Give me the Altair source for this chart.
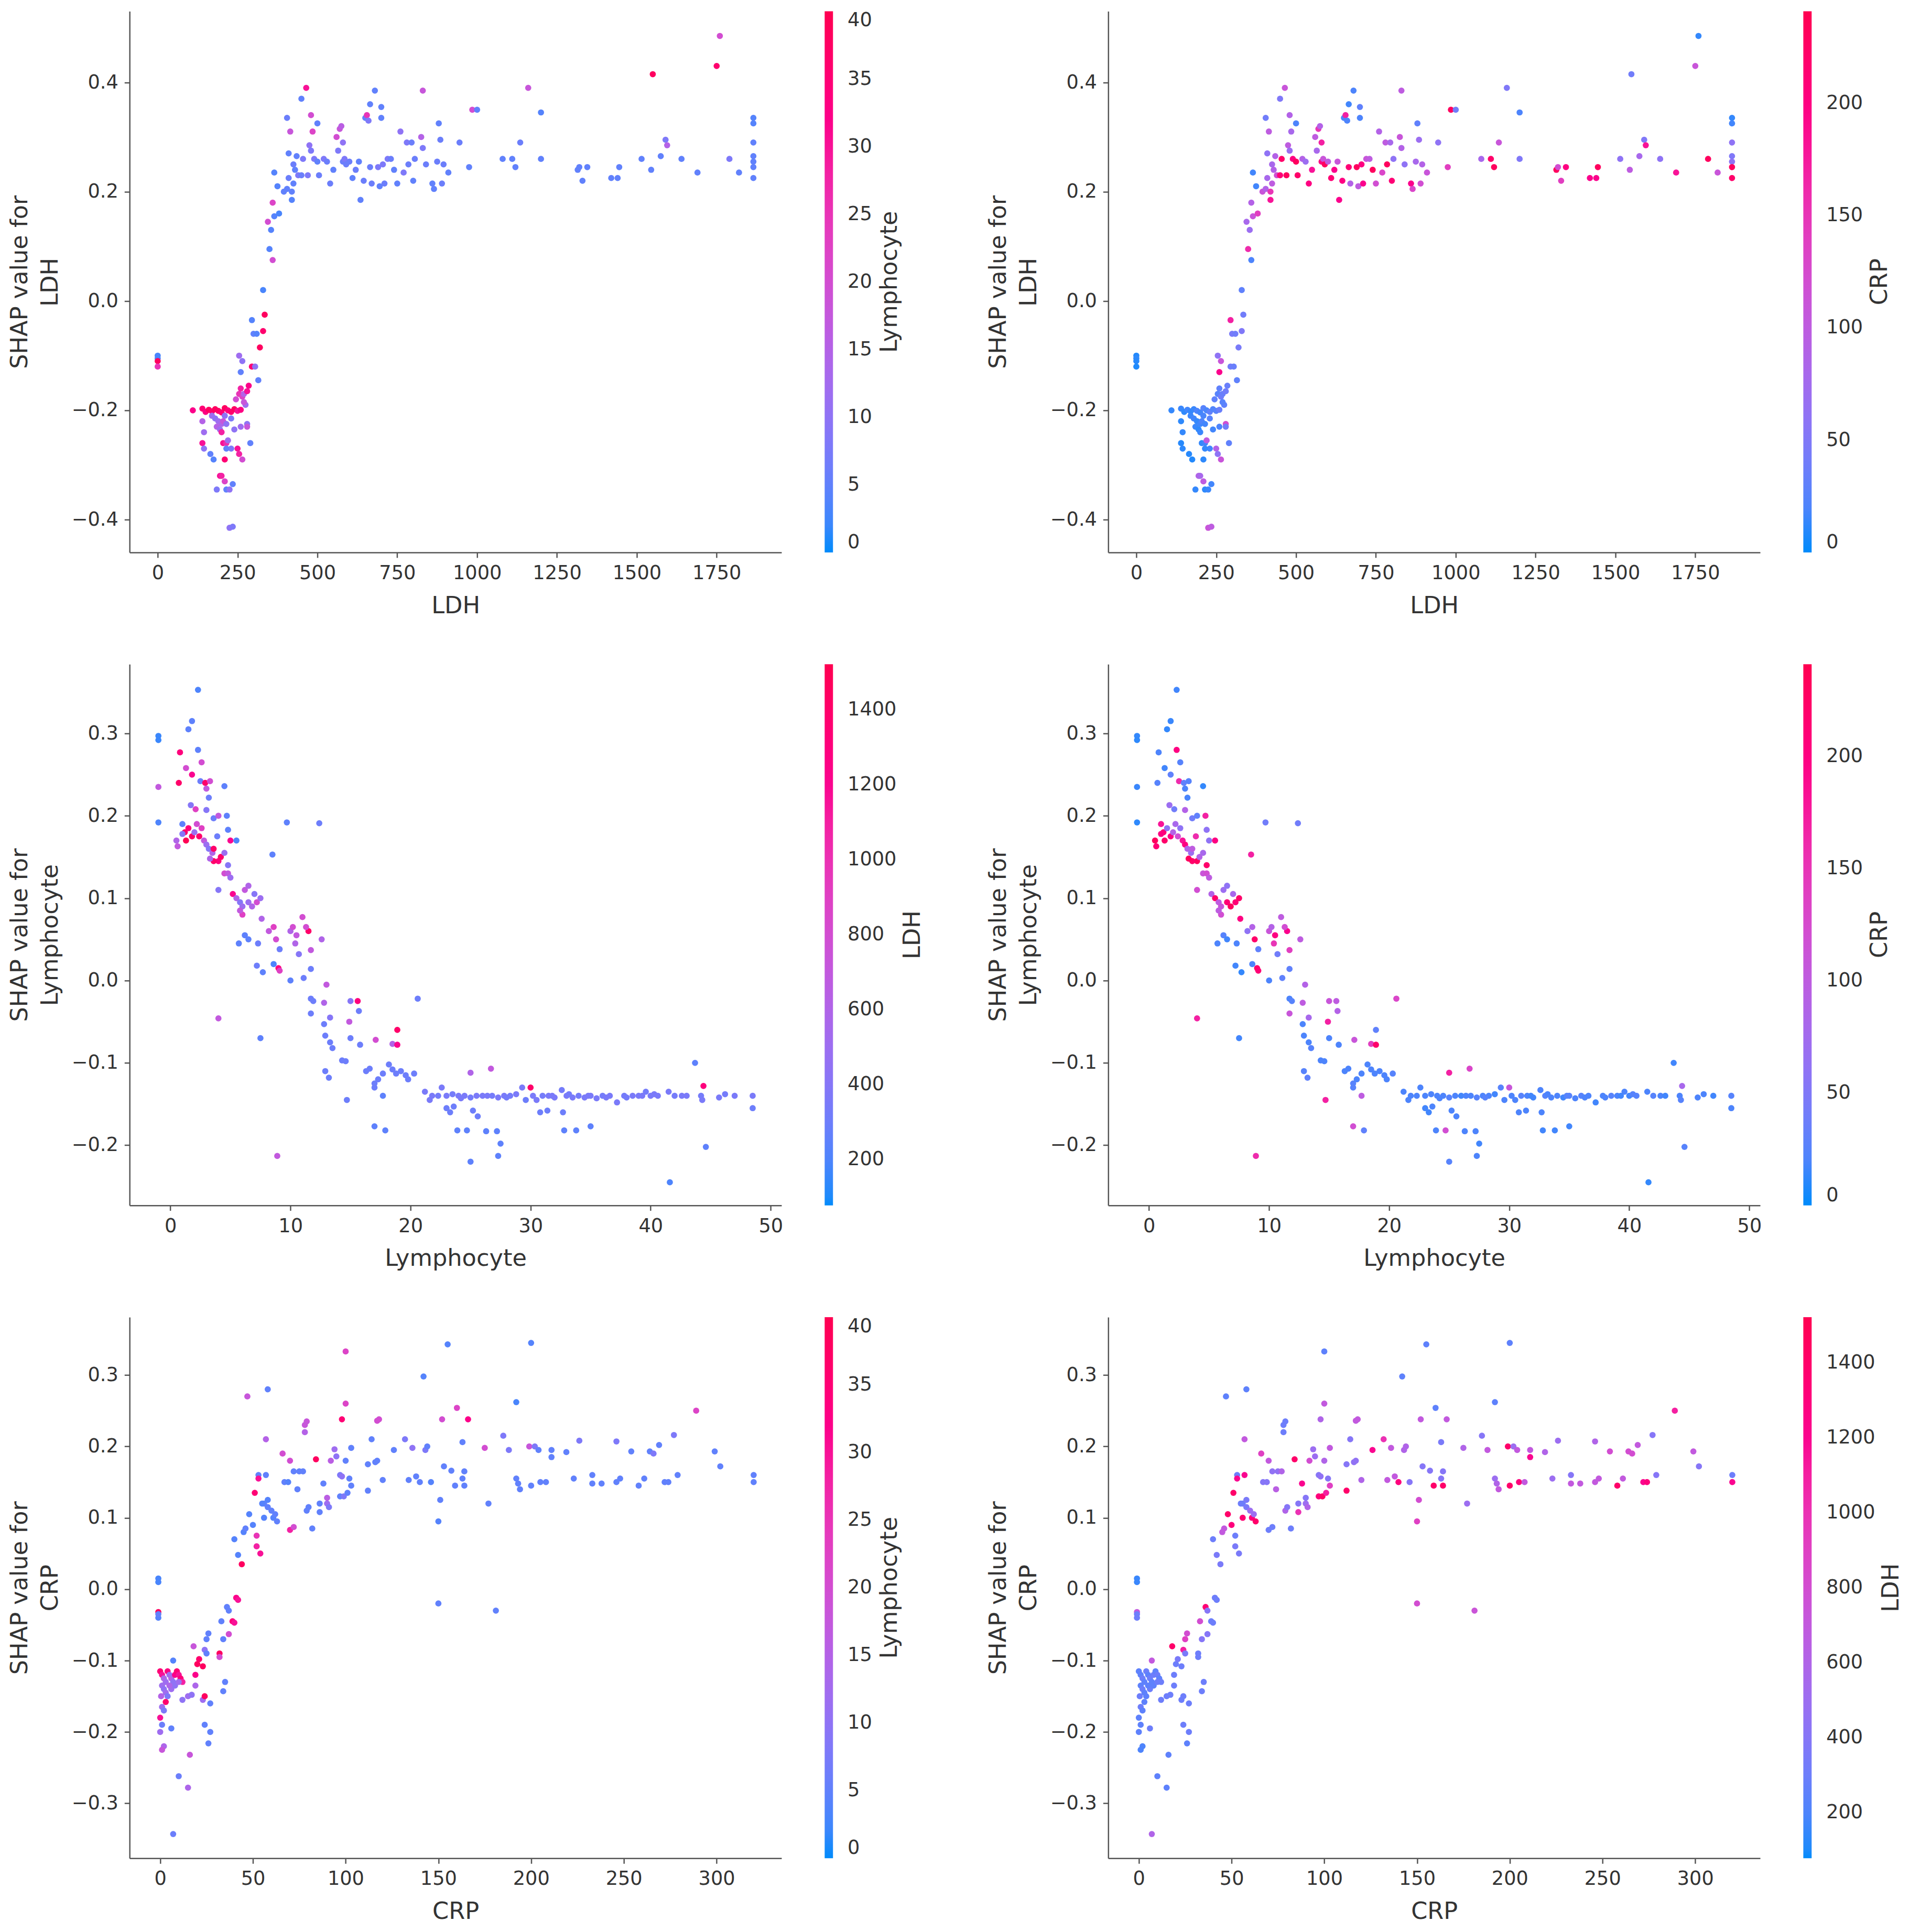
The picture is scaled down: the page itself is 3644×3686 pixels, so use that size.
import pandas as pd
import altair as alt

# ---- LDH dependence (row 1: colour by Lymphocyte, then by CRP) ----
ldh_x = [
    0, 0, 0, 0, 110, 140, 150, 160, 170, 180,
    190, 200, 210, 220, 230, 240, 250, 260, 140, 145,
    140, 145, 170, 180, 190, 200, 210, 185, 195, 205,
    215, 230, 165, 175, 200, 205, 215, 220, 230, 250,
    255, 265, 210, 215, 195, 200, 210, 215, 185, 225,
    235, 225, 235, 245, 255, 260, 265, 270, 275, 280,
    285, 270, 280, 290, 260, 240, 280, 255, 265, 260,
    295, 305, 315, 300, 310, 295, 320, 330, 335, 330,
    350, 360, 345, 355, 365, 360, 380, 375, 365, 395,
    405, 410, 420, 420, 425, 430, 440, 450, 405, 410,
    415, 425, 435, 450, 455, 465, 470, 475, 480, 480,
    485, 490, 500, 500, 505, 520, 530, 540, 550, 560,
    565, 570, 575, 580, 580, 585, 590, 600, 610, 620,
    630, 635, 645, 650, 655, 660, 665, 665, 670, 680,
    690, 695, 700, 700, 705, 710, 720, 730, 740, 750,
    760, 770, 780, 785, 795, 800, 805, 825, 830, 830,
    840, 860, 865, 875, 880, 885, 890, 895, 910, 945,
    975, 985, 1000, 1080, 1110, 1120, 1135, 1160, 1200, 1200,
    1315, 1320, 1330, 1345, 1420, 1440, 1445, 1515, 1545, 1550,
    1575, 1590, 1595, 1640, 1690, 1750, 1760, 1790, 1820, 1865,
    1865, 1865, 1865, 1865, 1865, 1865,
]
ldh_shap = [
    -0.10, -0.105, -0.11, -0.12, -0.200, -0.197, -0.203, -0.199, -0.202, -0.198,
    -0.201, -0.204, -0.196, -0.200, -0.203, -0.198, -0.201, -0.199, -0.22, -0.24,
    -0.26, -0.27, -0.21, -0.215, -0.22, -0.225, -0.21, -0.23, -0.235, -0.22,
    -0.225, -0.215, -0.28, -0.29, -0.24, -0.26, -0.26, -0.255, -0.27, -0.27,
    -0.28, -0.29, -0.29, -0.27, -0.32, -0.32, -0.33, -0.345, -0.345, -0.345,
    -0.335, -0.415, -0.413, -0.18, -0.17, -0.16, -0.175, -0.17, -0.19, -0.165,
    -0.155, -0.185, -0.225, -0.26, -0.23, -0.235, -0.23, -0.10, -0.11, -0.13,
    -0.12, -0.12, -0.145, -0.06, -0.06, -0.035, -0.085, -0.055, -0.025, 0.02,
    0.095, 0.075, 0.145, 0.13, 0.155, 0.18, 0.16, 0.21, 0.235, 0.20,
    0.205, 0.225, 0.185, 0.20, 0.215, 0.24, 0.23, 0.23, 0.335, 0.27,
    0.31, 0.25, 0.265, 0.37, 0.26, 0.39, 0.23, 0.285, 0.34, 0.275,
    0.31, 0.26, 0.325, 0.255, 0.23, 0.26, 0.255, 0.215, 0.24, 0.30,
    0.275, 0.315, 0.32, 0.255, 0.29, 0.26, 0.25, 0.255, 0.225, 0.24,
    0.255, 0.185, 0.22, 0.335, 0.34, 0.33, 0.245, 0.36, 0.215, 0.385,
    0.245, 0.21, 0.355, 0.335, 0.25, 0.215, 0.26, 0.26, 0.24, 0.215,
    0.31, 0.235, 0.29, 0.25, 0.29, 0.22, 0.26, 0.30, 0.385, 0.28,
    0.25, 0.215, 0.205, 0.255, 0.325, 0.295, 0.215, 0.25, 0.235, 0.29,
    0.245, 0.35, 0.35, 0.26, 0.26, 0.245, 0.29, 0.39, 0.345, 0.26,
    0.24, 0.245, 0.22, 0.245, 0.225, 0.225, 0.245, 0.26, 0.24, 0.415,
    0.265, 0.295, 0.285, 0.26, 0.235, 0.43, 0.485, 0.26, 0.235, 0.335,
    0.325, 0.29, 0.265, 0.255, 0.245, 0.225,
]
ldh_lymph = [
    3, 3, 38, 25, 32, 35, 33, 38, 36, 38,
    37, 35, 38, 34, 36, 38, 30, 33, 15, 12,
    30, 10, 12, 10, 12, 14, 10, 15, 12, 18,
    10, 8, 5, 4, 28, 30, 26, 12, 8, 30,
    28, 20, 35, 5, 30, 28, 22, 5, 8, 10,
    5, 10, 8, 20, 25, 28, 22, 15, 12, 30,
    32, 18, 10, 5, 12, 10, 18, 12, 10, 5,
    35, 10, 5, 5, 4, 4, 38, 36, 38, 3,
    4, 20, 20, 4, 4, 22, 3, 4, 4, 5,
    5, 6, 4, 5, 5, 5, 8, 6, 6, 5,
    18, 6, 5, 5, 8, 30, 8, 10, 20, 8,
    22, 8, 5, 5, 6, 8, 6, 6, 5, 20,
    8, 18, 16, 6, 10, 8, 6, 6, 5, 6,
    5, 5, 6, 5, 25, 8, 6, 5, 6, 5,
    8, 5, 5, 5, 8, 6, 8, 6, 5, 5,
    10, 8, 8, 6, 6, 5, 6, 15, 18, 8,
    6, 5, 5, 6, 5, 6, 6, 6, 5, 6,
    5, 20, 5, 5, 5, 5, 6, 18, 4, 5,
    5, 5, 5, 5, 5, 5, 5, 5, 5, 38,
    5, 8, 15, 5, 5, 36, 20, 8, 5, 4,
    4, 5, 5, 5, 5, 5,
]
ldh_crp = [
    5, 8, 6, 4, 10, 12, 8, 15, 10, 12,
    20, 15, 25, 18, 30, 22, 25, 35, 8, 10,
    6, 8, 12, 15, 10, 14, 18, 12, 8, 20,
    15, 25, 6, 5, 12, 10, 15, 100, 15, 90,
    60, 110, 8, 10, 90, 80, 100, 8, 10, 12,
    15, 110, 100, 30, 25, 30, 40, 35, 30, 40,
    35, 25, 120, 30, 20, 15, 40, 60, 110, 190,
    40, 35, 30, 45, 40, 170, 45, 50, 40, 30,
    160, 20, 80, 70, 110, 90, 140, 15, 15, 110,
    90, 80, 180, 150, 100, 90, 120, 210, 40, 60,
    100, 80, 90, 50, 220, 110, 230, 100, 90, 70,
    80, 200, 20, 230, 220, 90, 70, 200, 180, 100,
    80, 150, 90, 200, 170, 110, 230, 100, 210, 190,
    110, 190, 200, 20, 170, 20, 210, 15, 90, 20,
    230, 100, 30, 20, 200, 190, 110, 100, 230, 120,
    90, 130, 100, 230, 80, 210, 60, 110, 100, 90,
    60, 190, 130, 80, 30, 70, 120, 90, 110, 60,
    140, 230, 40, 80, 220, 230, 110, 50, 20, 50,
    230, 120, 140, 200, 190, 190, 230, 60, 100, 40,
    80, 50, 180, 60, 180, 110, 10, 230, 110, 10,
    15, 60, 50, 60, 230, 220,
]

# ---- Lymphocyte dependence (row 2: colour by LDH, then by CRP) ----
lym_x = [
    -1.0, -1.0, -1.0, -1.0, 0.8, 0.7, 1.3, 1.5, 1.8, 1.8,
    2.3, 2.3, 2.6, 2.5, 2.9, 3.0, 3.3, 3.2, 4.5, 1.7,
    2.1, 3.0, 3.6, 4.0, 4.7, 1.0, 1.2, 1.5, 1.8, 2.0,
    2.2, 2.4, 2.6, 1.3, 0.5, 0.6, 1.0, 2.8, 3.0, 3.2,
    3.5, 3.6, 4.0, 3.6, 3.3, 4.2, 4.5, 4.8, 4.5, 4.8,
    5.0, 5.0, 3.9, 4.8, 5.5, 4.0, 5.2, 5.5, 5.8, 6.0,
    6.2, 6.5, 6.0, 6.5, 7.0, 7.2, 7.5, 6.8, 5.8, 5.7,
    6.2, 6.5, 7.3, 7.6, 8.2, 8.6, 8.8, 9.1, 7.2, 7.7,
    8.5, 8.6, 9.0, 9.1, 10.0, 10.2, 10.5, 10.4, 11.0, 11.5,
    11.3, 11.7, 12.6, 10.7, 11.1, 10.0, 11.7, 9.7, 12.4, 4.0,
    7.5, 11.7, 11.9, 11.7, 13.0, 12.8, 13.3, 12.8, 12.9, 13.3,
    13.5, 15.0, 15.6, 15.7, 14.9, 15.0, 15.8, 17.1, 18.5, 18.9,
    18.9, 20.6, 14.3, 14.6, 12.9, 13.2, 14.7, 16.3, 16.6, 17.0,
    17.3, 17.0, 17.7, 17.7, 18.2, 18.5, 18.8, 19.2, 19.6, 19.8,
    20.3, 17.0, 17.9, 21.2, 21.6, 22.3, 22.6, 23.0, 23.5, 24.0,
    24.5, 25.0, 25.5, 26.0, 26.8, 27.3, 27.8, 28.3, 28.8, 29.3,
    30.5, 31.0, 31.5, 32.0, 32.6, 33.0, 33.5, 34.0, 34.5, 35.0,
    35.5, 36.0, 36.6, 37.2, 37.8, 38.5, 39.0, 39.6, 40.0, 40.6,
    41.5, 42.0, 42.6, 43.0, 44.2, 44.3, 45.7, 46.2, 47.0, 48.5,
    48.5, 23.0, 23.3, 23.6, 25.2, 25.6, 29.6, 30.8, 31.4, 32.7,
    23.9, 24.7, 25.0, 26.3, 27.2, 27.3, 27.5, 32.8, 33.8, 35.0,
    41.6, 44.6, 43.7, 25.0, 26.7, 30.0, 44.4, 8.9, 21.8, 24.2,
    26.4, 28.0, 30.2, 31.8, 33.2, 34.8, 36.3, 38.0, 39.3, 40.3,
]
lym_shap = [
    0.297, 0.292, 0.235, 0.192, 0.277, 0.240, 0.258, 0.305, 0.315, 0.250,
    0.353, 0.280, 0.265, 0.242, 0.240, 0.233, 0.242, 0.222, 0.236, 0.213,
    0.208, 0.207, 0.197, 0.200, 0.200, 0.190, 0.180, 0.185, 0.175, 0.180,
    0.190, 0.175, 0.185, 0.170, 0.170, 0.163, 0.178, 0.170, 0.165, 0.160,
    0.155, 0.160, 0.145, 0.145, 0.148, 0.150, 0.155, 0.140, 0.130, 0.130,
    0.125, 0.170, 0.175, 0.183, 0.170, 0.110, 0.105, 0.100, 0.095, 0.090,
    0.110, 0.115, 0.080, 0.095, 0.105, 0.095, 0.100, 0.090, 0.085, 0.045,
    0.055, 0.050, 0.045, 0.075, 0.060, 0.065, 0.050, 0.038, 0.018, 0.010,
    0.153, 0.020, 0.015, 0.012, 0.060, 0.065, 0.055, 0.045, 0.077, 0.060,
    0.065, 0.037, 0.050, 0.032, 0.003, 0.000, 0.014, 0.192, 0.191, -0.046,
    -0.070, -0.022, -0.025, -0.040, -0.005, -0.027, -0.045, -0.053, -0.067, -0.075,
    -0.082, -0.025, -0.025, -0.037, -0.050, -0.070, -0.078, -0.072, -0.077, -0.060,
    -0.078, -0.022, -0.097, -0.098, -0.110, -0.118, -0.145, -0.110, -0.107, -0.125,
    -0.120, -0.130, -0.113, -0.140, -0.102, -0.108, -0.113, -0.110, -0.115, -0.120,
    -0.113, -0.177, -0.182, -0.135, -0.145, -0.140, -0.130, -0.140, -0.138, -0.140,
    -0.140, -0.142, -0.140, -0.140, -0.140, -0.142, -0.140, -0.140, -0.138, -0.130,
    -0.145, -0.140, -0.140, -0.142, -0.133, -0.140, -0.142, -0.140, -0.142, -0.140,
    -0.143, -0.140, -0.140, -0.148, -0.140, -0.140, -0.140, -0.135, -0.140, -0.140,
    -0.135, -0.140, -0.140, -0.140, -0.140, -0.145, -0.142, -0.138, -0.140, -0.140,
    -0.155, -0.155, -0.160, -0.153, -0.158, -0.165, -0.145, -0.160, -0.158, -0.160,
    -0.182, -0.182, -0.220, -0.183, -0.183, -0.213, -0.198, -0.182, -0.182, -0.177,
    -0.245, -0.202, -0.100, -0.112, -0.107, -0.130, -0.128, -0.213, -0.140, -0.143,
    -0.140, -0.142, -0.140, -0.140, -0.138, -0.140, -0.142, -0.142, -0.140, -0.138,
]
lym_ldh = [
    150, 150, 700, 200, 1300, 1400, 800, 250, 250, 1200,
    200, 250, 800, 300, 1400, 700, 800, 300, 250, 400,
    900, 400, 300, 700, 250, 250, 1400, 1300, 1400, 500,
    800, 1400, 900, 1500, 600, 700, 400, 700, 500, 400,
    600, 1400, 1300, 1400, 600, 1400, 500, 400, 800, 700,
    500, 1200, 300, 250, 200, 400, 1200, 600, 400, 500,
    700, 600, 900, 500, 400, 800, 500, 600, 700, 250,
    250, 250, 300, 600, 700, 900, 800, 300, 300, 250,
    250, 200, 1300, 900, 600, 800, 700, 600, 800, 1400,
    800, 700, 600, 400, 300, 250, 300, 250, 300, 700,
    250, 300, 300, 300, 700, 600, 400, 300, 300, 300,
    300, 400, 1300, 300, 700, 300, 300, 800, 600, 1400,
    1200, 300, 300, 300, 300, 300, 300, 300, 300, 300,
    300, 300, 300, 250, 300, 300, 300, 300, 300, 300,
    300, 250, 250, 350, 350, 330, 350, 350, 330, 350,
    350, 330, 350, 350, 330, 350, 350, 330, 350, 350,
    350, 330, 350, 350, 330, 350, 350, 330, 350, 350,
    350, 330, 350, 350, 330, 350, 350, 330, 350, 350,
    350, 330, 350, 350, 330, 350, 350, 330, 350, 350,
    300, 300, 300, 300, 300, 300, 300, 300, 300, 300,
    250, 250, 250, 250, 250, 250, 250, 250, 250, 250,
    200, 250, 250, 600, 700, 1400, 1300, 700, 350, 350,
    350, 330, 350, 350, 330, 350, 350, 330, 350, 350,
]
lym_crp = [
    10, 8, 12, 8, 20, 25, 15, 10, 12, 30,
    15, 200, 25, 160, 30, 20, 25, 18, 10, 70,
    40, 90, 40, 30, 170, 180, 210, 60, 200, 90,
    80, 120, 60, 220, 230, 210, 200, 180, 200, 90,
    70, 100, 230, 220, 230, 90, 80, 220, 110, 120,
    100, 60, 160, 60, 200, 120, 90, 220, 100, 110,
    70, 60, 120, 210, 80, 210, 220, 230, 100, 20,
    25, 15, 20, 200, 60, 90, 220, 30, 15, 10,
    170, 20, 220, 210, 110, 90, 200, 150, 100, 190,
    120, 140, 100, 40, 30, 20, 30, 40, 40, 170,
    15, 20, 25, 110, 90, 100, 80, 20, 20, 20,
    25, 110, 100, 90, 170, 20, 20, 110, 140, 30,
    220, 130, 20, 20, 25, 30, 170, 20, 20, 25,
    20, 25, 20, 100, 20, 20, 20, 20, 20, 20,
    25, 120, 30, 20, 20, 20, 20, 20, 20, 20,
    20, 25, 20, 15, 20, 25, 20, 20, 15, 25,
    20, 25, 20, 15, 20, 25, 20, 20, 15, 25,
    20, 25, 20, 15, 20, 25, 20, 20, 15, 25,
    20, 25, 20, 15, 20, 25, 20, 20, 15, 25,
    20, 15, 15, 20, 20, 20, 20, 20, 20, 20,
    20, 120, 25, 20, 20, 20, 15, 15, 15, 15,
    10, 25, 15, 170, 130, 110, 80, 160, 20, 20,
    20, 25, 20, 15, 20, 25, 20, 20, 15, 25,
]

# ---- CRP dependence (row 3: colour by Lymphocyte, then by LDH) ----
crp_x = [
    -1, -1, -1, -1, -1, 0, 1, 2, 3, 4,
    5, 6, 7, 8, 9, 10, 11, 12, 1, 2,
    3, 0.5, 4, 6, 8, 10, 5, 7, 3, 1,
    2, 0, 1, 0, 2, 1, 6, 12, 15, 17,
    18, 19, 20, 21, 23, 24, 25, 26, 19, 23,
    25, 24, 27, 24, 27, 26, 32, 32, 33, 34,
    34, 35, 36, 37, 37, 39, 40, 41, 42, 10,
    16, 15, 7, 40, 42, 44, 45, 46, 48, 50,
    51, 52, 52, 54, 53, 53, 56, 56, 58, 58,
    60, 61, 62, 63, 57, 55, 47, 58, 57, 66,
    67, 69, 70, 70, 72, 72, 74, 75, 77, 78,
    79, 78, 79, 80, 82, 84, 86, 86, 88, 90,
    90, 91, 92, 94, 95, 97, 97, 98, 98, 99,
    100, 100, 100, 101, 102, 103, 103, 112, 112, 114,
    116, 117, 117, 118, 120, 126, 132, 134, 136, 138,
    140, 142, 143, 144, 146, 150, 151, 152, 153, 155,
    157, 159, 160, 163, 163, 164, 164, 166, 175, 177,
    185, 188, 192, 192, 193, 194, 199, 200, 200, 202,
    204, 205, 208, 211, 211, 219, 223, 226, 233, 233,
    238, 246, 246, 248, 254, 258, 261, 264, 266, 269,
    272, 274, 277, 279, 289, 299, 302, 320, 320, 150, 181,
]
crp_shap = [
    0.015, 0.010, -0.032, -0.040, -0.035, -0.115, -0.120, -0.125, -0.130, -0.115,
    -0.120, -0.125, -0.130, -0.120, -0.115, -0.120, -0.125, -0.130, -0.135, -0.140,
    -0.145, -0.150, -0.150, -0.140, -0.135, -0.130, -0.135, -0.100, -0.158, -0.165,
    -0.170, -0.180, -0.190, -0.200, -0.220, -0.225, -0.195, -0.155, -0.150, -0.148,
    -0.080, -0.120, -0.105, -0.098, -0.108, -0.085, -0.070, -0.062, -0.135, -0.155,
    -0.090, -0.150, -0.160, -0.190, -0.200, -0.216, -0.090, -0.095, -0.045, -0.070,
    -0.143, -0.130, -0.025, -0.030, -0.063, -0.045, -0.047, -0.012, -0.015, -0.262,
    -0.232, -0.278, -0.343, 0.070, 0.048, 0.035, 0.080, 0.085, 0.105, 0.090,
    0.135, 0.075, 0.060, 0.050, 0.160, 0.155, 0.100, 0.120, 0.115, 0.125,
    0.110, 0.100, 0.105, 0.095, 0.160, 0.120, 0.270, 0.280, 0.210, 0.190,
    0.150, 0.150, 0.180, 0.083, 0.087, 0.165, 0.140, 0.165, 0.165, 0.230,
    0.235, 0.220, 0.110, 0.115, 0.085, 0.182, 0.120, 0.108, 0.148, 0.120,
    0.128, 0.115, 0.180, 0.196, 0.186, 0.160, 0.130, 0.238, 0.158, 0.130,
    0.333, 0.260, 0.180, 0.135, 0.155, 0.198, 0.145, 0.175, 0.138, 0.210,
    0.178, 0.180, 0.236, 0.238, 0.153, 0.195, 0.210, 0.153, 0.198, 0.158,
    0.150, 0.298, 0.195, 0.200, 0.150, 0.095, 0.125, 0.238, 0.172, 0.343,
    0.166, 0.145, 0.254, 0.206, 0.155, 0.165, 0.145, 0.238, 0.198, 0.120,
    0.215, 0.195, 0.262, 0.155, 0.148, 0.140, 0.200, 0.345, 0.145, 0.200,
    0.195, 0.150, 0.150, 0.195, 0.185, 0.192, 0.155, 0.208, 0.160, 0.148,
    0.148, 0.207, 0.150, 0.155, 0.193, 0.145, 0.155, 0.193, 0.190, 0.202,
    0.150, 0.150, 0.216, 0.160, 0.250, 0.193, 0.172, 0.160, 0.150, -0.020, -0.030,
]
crp_lymph = [
    3, 3, 38, 4, 5, 35, 30, 14, 12, 33,
    12, 15, 10, 32, 35, 30, 34, 28, 12, 10,
    12, 15, 8, 12, 10, 12, 14, 4, 36, 12,
    8, 30, 6, 12, 14, 18, 5, 10, 12, 10,
    18, 32, 38, 36, 38, 10, 5, 5, 14, 12,
    5, 38, 5, 5, 5, 5, 38, 20, 5, 5,
    5, 5, 5, 5, 20, 34, 30, 32, 30, 6,
    18, 14, 6, 4, 4, 38, 4, 5, 4, 4,
    35, 25, 28, 30, 5, 30, 4, 5, 5, 4,
    5, 4, 5, 5, 5, 4, 18, 5, 15, 20,
    5, 4, 20, 28, 20, 5, 5, 5, 5, 18,
    18, 15, 5, 5, 5, 38, 5, 5, 5, 12,
    16, 8, 16, 12, 10, 8, 5, 35, 10, 8,
    22, 22, 5, 5, 5, 5, 5, 5, 5, 5,
    5, 5, 20, 20, 5, 5, 8, 5, 10, 5,
    5, 4, 8, 5, 4, 4, 5, 20, 5, 4,
    5, 5, 22, 5, 5, 5, 5, 32, 20, 5,
    8, 8, 3, 5, 5, 5, 18, 4, 5, 8,
    5, 5, 5, 5, 5, 5, 5, 8, 5, 5,
    5, 8, 5, 5, 5, 5, 5, 5, 8, 5,
    5, 5, 8, 5, 22, 5, 5, 5, 5, 5, 5,
]
crp_ldh = [
    150, 150, 700, 300, 300, 250, 250, 300, 250, 300,
    250, 300, 250, 300, 250, 300, 250, 300, 250, 300,
    250, 300, 250, 300, 250, 300, 250, 700, 250, 300,
    250, 250, 250, 250, 200, 200, 300, 300, 300, 300,
    1400, 300, 300, 350, 300, 1100, 900, 800, 300, 300,
    350, 300, 300, 300, 300, 250, 300, 300, 800, 400,
    300, 300, 1350, 400, 400, 300, 300, 300, 300, 250,
    250, 250, 600, 300, 350, 350, 700, 700, 1400, 1300,
    1400, 300, 350, 350, 300, 1200, 1350, 300, 350, 350,
    500, 1300, 500, 1400, 1200, 300, 250, 250, 700, 900,
    400, 400, 700, 300, 300, 450, 650, 450, 600, 300,
    300, 300, 600, 400, 300, 1400, 400, 1000, 1200, 500,
    400, 600, 800, 500, 500, 400, 1300, 600, 450, 1400,
    250, 700, 600, 1100, 400, 700, 900, 400, 1400, 400,
    450, 450, 700, 700, 600, 1200, 1000, 700, 700, 700,
    1300, 250, 600, 600, 400, 900, 800, 700, 400, 250,
    400, 1400, 250, 350, 400, 400, 1400, 700, 600, 500,
    400, 700, 250, 500, 600, 700, 1400, 250, 1400, 500,
    700, 1300, 700, 700, 1200, 600, 500, 500, 400, 700,
    700, 600, 700, 700, 800, 1400, 700, 800, 800, 700,
    1200, 1300, 400, 400, 1100, 700, 400, 300, 1200, 800, 750,
]

# colour bar limits and tick labels
lymph_color_domain = [0, 40]
lymph_color_ticks = [0, 5, 10, 15, 20, 25, 30, 35, 40]
crp_color_domain = [0, 241]
crp_color_ticks = [0, 50, 100, 150, 200]
ldh_color_domain = [78, 1522]
ldh_color_ticks = [200, 400, 600, 800, 1000, 1200, 1400]

FONT = "DejaVu Sans"
TEXT = "#333333"
SPINE = "#555555"
SHAP_RED_BLUE = ["#008bfb", "#ff0051"]  # shap red_blue colormap ends

PANEL_W = 1253
PANEL_H = 1040
LABEL_SIZE = 37
TITLE_SIZE = 45


def colorbar_title(title, label_digits):
    """Rotated colour bar title, placed right of the legend tick labels."""
    x_pos = PANEL_W + 127 + 22 * label_digits + 37
    return alt.Chart(pd.DataFrame({'t': [title]})).mark_text(
        angle=270, align='center', baseline='middle', font=FONT,
        fontSize=TITLE_SIZE, color=TEXT
    ).encode(
        text='t:N', x=alt.value(x_pos), y=alt.value(PANEL_H / 2)
    )


def dependence_panel(df, feature, x_domain, x_ticks, y_domain, y_ticks,
                     color_field, color_domain, color_ticks):
    """One SHAP dependence scatter with its own colour bar."""
    points = alt.Chart(df).mark_circle(size=140, opacity=1, strokeWidth=0).encode(
        x=alt.X(
            f'{feature}:Q',
            scale=alt.Scale(domain=x_domain, nice=False, zero=False),
            axis=alt.Axis(values=x_ticks, title=feature, format='d')
        ),
        y=alt.Y(
            'shap:Q',
            scale=alt.Scale(domain=y_domain, nice=False, zero=False),
            axis=alt.Axis(values=y_ticks, format='.1f',
                          title=['SHAP value for', feature])
        ),
        color=alt.Color(
            f'{color_field}:Q',
            scale=alt.Scale(domain=color_domain, range=SHAP_RED_BLUE,
                            interpolate='hcl', clamp=True),
            legend=alt.Legend(
                title=None, values=color_ticks, format='d', orient='right',
                offset=83, padding=0, direction='vertical',
                gradientLength=PANEL_H, gradientThickness=16,
                gradientStrokeWidth=0, labelOffset=28, labelOverlap=False
            )
        )
    )
    digits = max(len(str(v)) for v in color_ticks)
    return alt.layer(points, colorbar_title(color_field, digits)).properties(
        width=PANEL_W, height=PANEL_H
    )


ldh_df = pd.DataFrame({'LDH': ldh_x, 'shap': ldh_shap,
                       'Lymphocyte': ldh_lymph, 'CRP': ldh_crp})
lym_df = pd.DataFrame({'Lymphocyte': lym_x, 'shap': lym_shap,
                       'LDH': lym_ldh, 'CRP': lym_crp})
crp_df = pd.DataFrame({'CRP': crp_x, 'shap': crp_shap,
                       'Lymphocyte': crp_lymph, 'LDH': crp_ldh})

ldh_xd, ldh_xt = [-88, 1953], [0, 250, 500, 750, 1000, 1250, 1500, 1750]
ldh_yd, ldh_yt = [-0.46, 0.53], [-0.4, -0.2, 0.0, 0.2, 0.4]
lym_xd, lym_xt = [-3.4, 50.9], [0, 10, 20, 30, 40, 50]
lym_yd, lym_yt = [-0.273, 0.384], [-0.2, -0.1, 0.0, 0.1, 0.2, 0.3]
crp_xd, crp_xt = [-16.5, 335], [0, 50, 100, 150, 200, 250, 300]
crp_yd, crp_yt = [-0.377, 0.381], [-0.3, -0.2, -0.1, 0.0, 0.1, 0.2, 0.3]

panels = [
    dependence_panel(ldh_df, 'LDH', ldh_xd, ldh_xt, ldh_yd, ldh_yt,
                     'Lymphocyte', lymph_color_domain, lymph_color_ticks),
    dependence_panel(ldh_df, 'LDH', ldh_xd, ldh_xt, ldh_yd, ldh_yt,
                     'CRP', crp_color_domain, crp_color_ticks),
    dependence_panel(lym_df, 'Lymphocyte', lym_xd, lym_xt, lym_yd, lym_yt,
                     'LDH', ldh_color_domain, ldh_color_ticks),
    dependence_panel(lym_df, 'Lymphocyte', lym_xd, lym_xt, lym_yd, lym_yt,
                     'CRP', crp_color_domain, crp_color_ticks),
    dependence_panel(crp_df, 'CRP', crp_xd, crp_xt, crp_yd, crp_yt,
                     'Lymphocyte', lymph_color_domain, lymph_color_ticks),
    dependence_panel(crp_df, 'CRP', crp_xd, crp_xt, crp_yd, crp_yt,
                     'LDH', ldh_color_domain, ldh_color_ticks),
]

chart = alt.concat(
    *panels, columns=2, spacing=alt.RowColnumber(row=90, column=120)
).resolve_scale(
    color='independent', x='independent', y='independent'
).properties(
    padding={'left': 8, 'top': 0, 'right': 5, 'bottom': 5}
).configure_view(
    stroke=None
).configure_axis(
    grid=False,
    labelFont=FONT, titleFont=FONT,
    labelFontSize=LABEL_SIZE, titleFontSize=TITLE_SIZE, titleFontWeight='normal',
    labelColor=TEXT, titleColor=TEXT,
    domainColor=SPINE, tickColor=SPINE,
    domainWidth=2.5, tickWidth=2.5, tickSize=10, labelPadding=12,
    titleLineHeight=58
).configure_axisX(
    titlePadding=22
).configure_axisY(
    titlePadding=18
).configure_legend(
    labelFont=FONT, labelFontSize=LABEL_SIZE, labelColor=TEXT
)

chart.save("out.html", embed_options={"renderer": "svg", "actions": False})
